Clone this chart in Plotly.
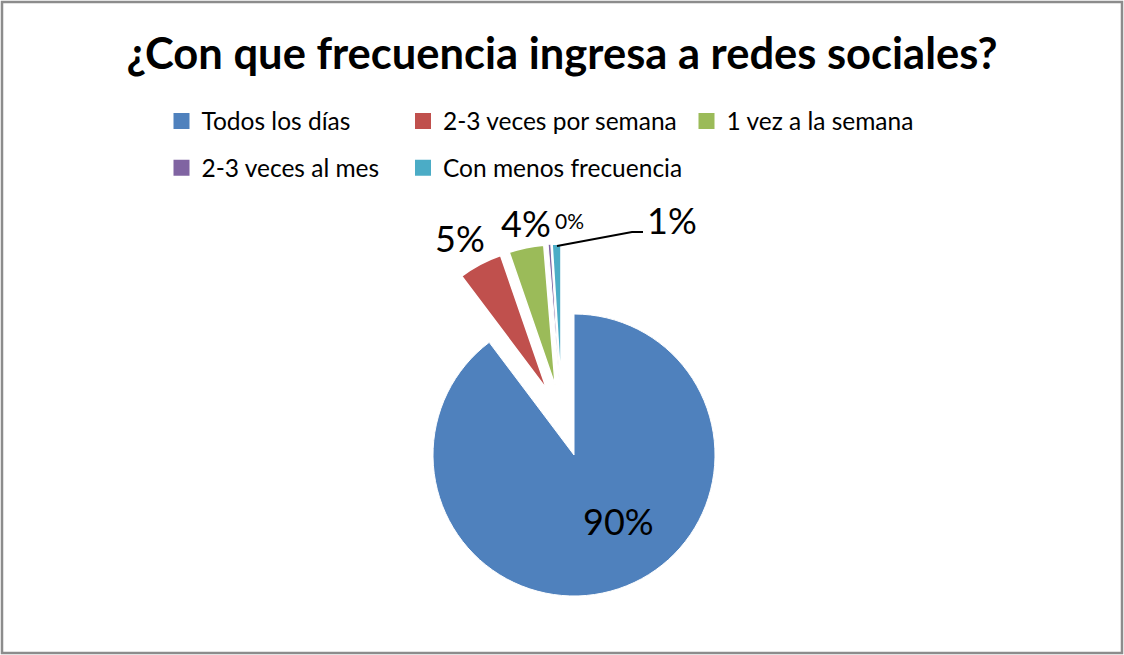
import plotly.graph_objects as go

# Survey answers and their shares
categories = ["Todos los días", "2-3 veces por semana", "1 vez a la semana",
              "2-3 veces al mes", "Con menos frecuencia"]
shares = [90, 5, 4, 0.3, 1]
colors = ["#4F81BD", "#C0504D", "#9BBB59", "#8064A2", "#4BACC6"]

W, H = 1124, 655
FONT = "Lato"


def px(x):
    return x / W


def py(y):
    return 1 - y / H


total = sum(shares)
pct_labels = [f"{round(v / total * 100)}%" for v in shares]

fig = go.Figure()

# Main (large) slice: unexploded, centred at (574, 455), radius 141
r = 141
cx, cy = 574, 455
main_colors = [colors[0]] + ["rgba(0,0,0,0)"] * 4
fig.add_trace(go.Pie(
    labels=categories, values=shares, sort=False, direction="clockwise",
    rotation=0, textinfo="none", hoverinfo="label+percent",
    marker=dict(colors=main_colors, line=dict(color="white", width=[1, 0, 0, 0, 0])),
    domain=dict(x=[px(cx - r), px(cx + r)], y=[py(cy + r), py(cy - r)]),
    showlegend=False,
))

# Small slices: exploded as a group, each also pulled out along its bisector
pull = 0.234
gx, gy = cx - 12, cy - 37
half = r * (1 + pull)
small_colors = ["rgba(0,0,0,0)"] + colors[1:]
fig.add_trace(go.Pie(
    labels=categories, values=shares, sort=False, direction="clockwise",
    rotation=0, textinfo="none", hoverinfo="label+percent",
    pull=[0, pull, pull, pull, pull],
    marker=dict(colors=small_colors, line=dict(color="white", width=[0, 1.5, 1.5, 1, 1.5])),
    domain=dict(x=[px(gx - half), px(gx + half)], y=[py(gy + half), py(gy - half)]),
    showlegend=False,
))

# Legend entries, laid out in three columns
legend_cols = ["legend", "legend2", "legend3", "legend", "legend2"]
for name, col, lg in zip(categories, colors, legend_cols):
    fig.add_trace(go.Scatter(
        x=[None], y=[None], mode="markers", name=name, legend=lg,
        legendgroup=name,
        marker=dict(symbol="square", size=16, color=col),
    ))

legend_style = dict(
    orientation="v", xanchor="left", yanchor="top",
    font=dict(family=FONT, size=24.5, color="#000000"),
    bgcolor="rgba(0,0,0,0)", tracegroupgap=12, itemwidth=30,
)
legend_top = py(98.5)
fig.update_layout(
    legend=dict(x=px(161.5), y=legend_top, **legend_style),
    legend2=dict(x=px(403), y=legend_top, **legend_style),
    legend3=dict(x=px(686.5), y=legend_top, **legend_style),
)

# Percentage labels
label_pos = [(618, 521, 36), (460, 238, 36), (526, 223, 36), (569, 220, 21), (672, 220, 36)]
for text, (lx, ly, fs) in zip(pct_labels, label_pos):
    fig.add_annotation(
        x=px(lx), y=py(ly), xref="paper", yref="paper", text=text, showarrow=False,
        xanchor="center", yanchor="middle",
        font=dict(family=FONT, size=fs, color="#000000"),
    )

# Leader line for the smallest visible slice label
fig.add_shape(
    type="path", xref="paper", yref="paper",
    path=f"M {px(557)} {py(246)} L {px(632)} {py(232)} L {px(643)} {py(232)}",
    line=dict(color="#000000", width=2),
)

# Chart area border
fig.add_shape(
    type="rect", xref="paper", yref="paper",
    x0=px(2), y0=py(653), x1=px(1122), y1=py(2),
    line=dict(color="#8C8C8C", width=2.5),
)

fig.update_layout(
    width=W, height=H,
    margin=dict(l=0, r=0, t=0, b=0),
    paper_bgcolor="white", plot_bgcolor="white",
    title=dict(
        text="<b>¿Con que frecuencia ingresa a redes sociales?</b>",
        x=0.5, xanchor="center", y=py(54), yanchor="middle",
        font=dict(family=FONT, size=43.5, color="#000000"),
    ),
    xaxis=dict(visible=False), yaxis=dict(visible=False),
)

fig.write_html("out.html")
